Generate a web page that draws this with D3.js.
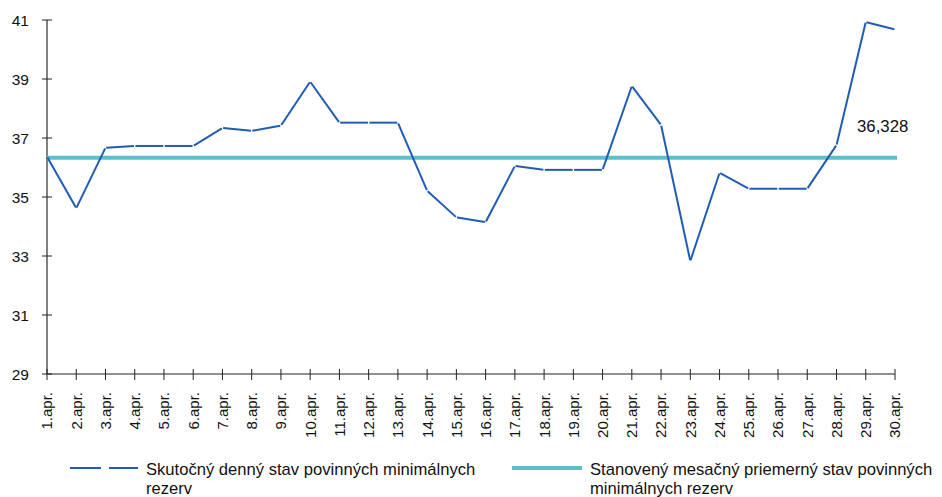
<!DOCTYPE html>
<html>
<head>
<meta charset="utf-8">
<script src="https://cdn.jsdelivr.net/npm/d3@7"></script>
<style>
  body { margin: 0; background: #fff; }
  svg { display: block; font-family: "Liberation Sans", Arial, sans-serif; }
</style>
</head>
<body>
<svg id="chart"></svg>
<script>
// Data
const days = d3.range(1, 31).map(d => d + ".apr.");
const actual = [36.37, 34.62, 36.67, 36.73, 36.73, 36.73, 37.34, 37.24, 37.42, 38.91,
                37.52, 37.52, 37.52, 35.21, 34.31, 34.15, 36.05, 35.92, 35.92, 35.92,
                38.76, 37.44, 32.83, 35.82, 35.28, 35.28, 35.28, 36.76, 40.93, 40.68];
const target = 36.328;
const yTicks = [29, 31, 33, 35, 37, 39, 41];
const legendLabels = [
  ["Skutočný denný stav povinných minimálnych", "rezerv"],
  ["Stanovený mesačný priemerný stav povinných", "minimálnych rezerv"]
];

// Constants
const width = 942;
const height = 497;
const lineBlue = "#1f5db5";
const lineCyan = "#5bc0cc";

const svg = d3.select("#chart")
  .attr("width", width)
  .attr("height", height);

const x = d3.scalePoint().domain(days).range([47, 895]);
const y = d3.scaleLinear().domain([29, 41]).range([374, 20]);

// Y axis
const yAxis = svg.append("g");
yAxis.append("line")
  .attr("x1", 47).attr("x2", 47)
  .attr("y1", y(41)).attr("y2", y(29))
  .attr("stroke", "#808080").attr("stroke-width", 2);
yAxis.selectAll("line.tick")
  .data(yTicks)
  .join("line")
    .attr("class", "tick")
    .attr("x1", 42).attr("x2", 52)
    .attr("y1", d => y(d)).attr("y2", d => y(d))
    .attr("stroke", "#222").attr("stroke-width", 1);
yAxis.selectAll("text")
  .data(yTicks)
  .join("text")
    .attr("x", 29)
    .attr("y", d => y(d))
    .attr("dy", "0.36em")
    .attr("text-anchor", "end")
    .attr("font-size", 15.5)
    .attr("fill", "#111")
    .text(d => d);

// X axis
const xAxis = svg.append("g");
xAxis.append("line")
  .attr("x1", 47).attr("x2", 895)
  .attr("y1", y(29)).attr("y2", y(29))
  .attr("stroke", "#222").attr("stroke-width", 1.2);
xAxis.selectAll("line.tick")
  .data(days)
  .join("line")
    .attr("class", "tick")
    .attr("x1", d => x(d)).attr("x2", d => x(d))
    .attr("y1", y(29) - 5).attr("y2", y(29) + 6)
    .attr("stroke", "#222").attr("stroke-width", 1);
xAxis.selectAll("text")
  .data(days)
  .join("text")
    .attr("transform", d => `translate(${x(d)},392) rotate(-90)`)
    .attr("dy", "0.36em")
    .attr("text-anchor", "end")
    .attr("font-size", 15)
    .attr("fill", "#111")
    .text(d => d);

// Target line
svg.append("line")
  .attr("x1", x(days[0])).attr("x2", x(days[days.length - 1]) + 2)
  .attr("y1", y(target)).attr("y2", y(target))
  .attr("stroke", lineCyan).attr("stroke-width", 4);

svg.append("text")
  .attr("x", 857)
  .attr("y", 132)
  .attr("font-size", 16.8)
  .attr("fill", "#111")
  .text(d3.format(".3f")(target).replace(".", ","));

// Actual series, drawn segment by segment with tiny gaps at joints
const pts = actual.map((v, i) => [x(days[i]), y(v)]);
const segs = d3.pairs(pts).map(([a, b]) => {
  const dx = b[0] - a[0], dy = b[1] - a[1];
  const len = Math.hypot(dx, dy), t = 0.7 / len;
  return [a[0] + dx * t, a[1] + dy * t, b[0] - dx * t, b[1] - dy * t];
});
svg.append("g")
  .selectAll("line")
  .data(segs)
  .join("line")
    .attr("x1", d => d[0]).attr("y1", d => d[1])
    .attr("x2", d => d[2]).attr("y2", d => d[3])
    .attr("stroke", lineBlue)
    .attr("stroke-width", 2);

// Legend
const legend = svg.append("g");
legend.append("line")
  .attr("x1", 70).attr("x2", 101).attr("y1", 468).attr("y2", 468)
  .attr("stroke", lineBlue).attr("stroke-width", 2);
legend.append("line")
  .attr("x1", 109).attr("x2", 138).attr("y1", 468).attr("y2", 468)
  .attr("stroke", lineBlue).attr("stroke-width", 2);
legend.append("line")
  .attr("x1", 512).attr("x2", 582).attr("y1", 468).attr("y2", 468)
  .attr("stroke", lineCyan).attr("stroke-width", 4);

const legendX = [146, 590];
legendLabels.forEach((lines, i) => {
  const t = legend.append("text")
    .attr("x", legendX[i])
    .attr("y", 475)
    .attr("font-size", 16.6)
    .attr("fill", "#111");
  lines.forEach((s, j) => {
    t.append("tspan")
      .attr("x", legendX[i])
      .attr("dy", j === 0 ? 0 : 19)
      .text(s);
  });
});
</script>
</body>
</html>
